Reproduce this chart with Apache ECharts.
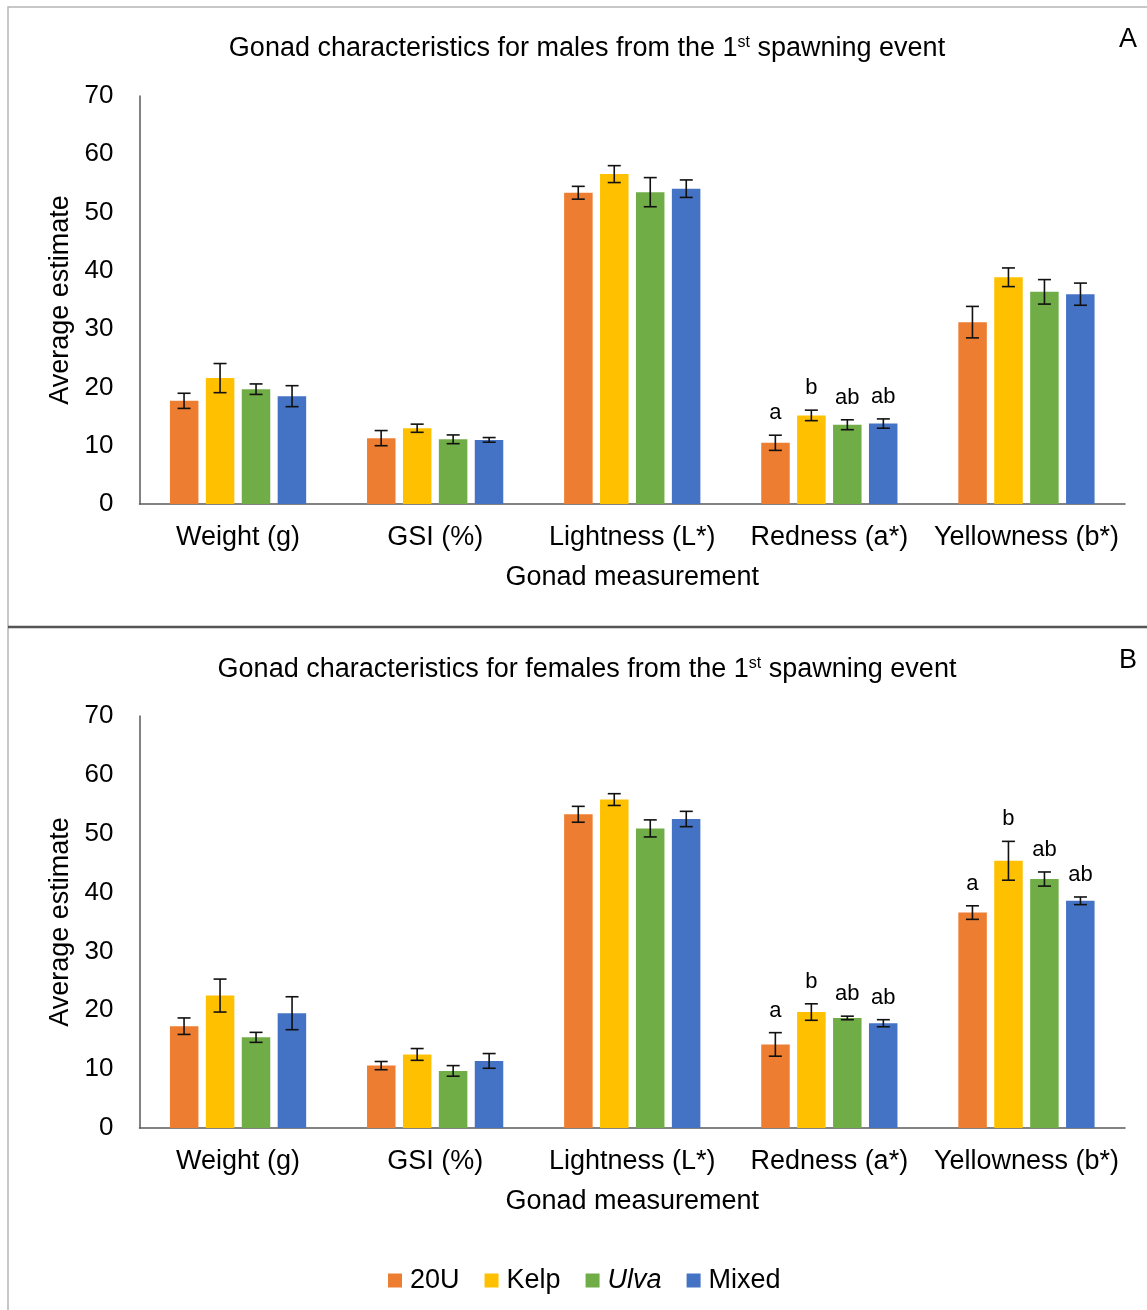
<!DOCTYPE html>
<html>
<head>
<meta charset="utf-8">
<script src="https://cdn.jsdelivr.net/npm/echarts@6/dist/echarts.min.js"></script>
<style>
  html, body { margin: 0; padding: 0; background: #fff; }
  #chart { width: 1147px; height: 1310px; }
</style>
</head>
<body>
<div id="chart"></div>
<script>
// Gonad measurements on the x axis
const categories = ['Weight (g)', 'GSI (%)', 'Lightness (L*)', 'Redness (a*)', 'Yellowness (b*)'];
const groups = ['20U', 'Kelp', 'Ulva', 'Mixed'];
const yTicks = [0, 10, 20, 30, 40, 50, 60, 70];

// Males, 1st spawning event: means and error bar half-widths
const maleMean20U   = [17.7, 11.3, 53.4, 10.5, 31.2];
const maleMeanKelp  = [21.6, 13.0, 56.6, 15.2, 38.9];
const maleMeanUlva  = [19.7, 11.1, 53.5, 13.6, 36.4];
const maleMeanMixed = [18.5, 11.0, 54.1, 13.8, 36.0];
const maleErr20U   = [1.3, 1.3, 1.1, 1.3, 2.7];
const maleErrKelp  = [2.5, 0.7, 1.45, 0.9, 1.6];
const maleErrUlva  = [0.9, 0.75, 2.5, 0.85, 2.1];
const maleErrMixed = [1.8, 0.4, 1.5, 0.8, 1.9];
const maleLet20U   = ['', '', '', 'a', ''];
const maleLetKelp  = ['', '', '', 'b', ''];
const maleLetUlva  = ['', '', '', 'ab', ''];
const maleLetMixed = ['', '', '', 'ab', ''];

// Females, 1st spawning event
const femaleMean20U   = [17.3, 10.6, 53.3, 14.2, 36.6];
const femaleMeanKelp  = [22.5, 12.5, 55.8, 19.7, 45.4];
const femaleMeanUlva  = [15.4, 9.7, 50.9, 18.7, 42.3];
const femaleMeanMixed = [19.5, 11.4, 52.5, 17.8, 38.6];
const femaleErr20U   = [1.4, 0.7, 1.35, 2.0, 1.15];
const femaleErrKelp  = [2.8, 1.0, 1.0, 1.4, 3.3];
const femaleErrUlva  = [0.85, 0.9, 1.45, 0.3, 1.2];
const femaleErrMixed = [2.8, 1.25, 1.3, 0.6, 0.65];
const femaleLet20U   = ['', '', '', 'a', 'a'];
const femaleLetKelp  = ['', '', '', 'b', 'b'];
const femaleLetUlva  = ['', '', '', 'ab', 'ab'];
const femaleLetMixed = ['', '', '', 'ab', 'ab'];

const colors = ['#ED7D31', '#FFC000', '#70AD47', '#4472C4'];
const FONT = '"Liberation Sans", Arial, sans-serif';
const FS = 27;
const BAR_W = 28.5, BAR_STEP = 36;

const panels = [
  { means: [maleMean20U, maleMeanKelp, maleMeanUlva, maleMeanMixed],
    errs: [maleErr20U, maleErrKelp, maleErrUlva, maleErrMixed],
    lets: [maleLet20U, maleLetKelp, maleLetUlva, maleLetMixed] },
  { means: [femaleMean20U, femaleMeanKelp, femaleMeanUlva, femaleMeanMixed],
    errs: [femaleErr20U, femaleErrKelp, femaleErrUlva, femaleErrMixed],
    lets: [femaleLet20U, femaleLetKelp, femaleLetUlva, femaleLetMixed] }
];

const chart = echarts.init(document.getElementById('chart'), null, { renderer: 'canvas' });

const grids = [
  { left: 139.5, right: 22, top: 96, height: 408 },
  { left: 139.5, right: 22, top: 716, height: 412 }
];

const axisText = { color: '#000', fontFamily: FONT, fontSize: FS };

const xAxes = grids.map((g, i) => ({
  type: 'category', gridIndex: i, data: categories,
  axisLine: { lineStyle: { color: '#595959', width: 1.5 } },
  axisTick: { show: false },
  axisLabel: Object.assign({ margin: 20, interval: 0 }, axisText),
  name: 'Gonad measurement', nameLocation: 'middle', nameGap: 60,
  nameTextStyle: Object.assign({}, axisText)
}));

const yAxes = grids.map((g, i) => ({
  type: 'value', gridIndex: i, min: yTicks[0], max: yTicks[yTicks.length - 1], interval: 10,
  axisLine: { show: true, lineStyle: { color: '#595959', width: 1.5 } },
  axisTick: { show: false },
  splitLine: { show: false },
  axisLabel: Object.assign({ margin: 26 }, axisText, { fontSize: 26 }),
  name: 'Average estimate', nameLocation: 'middle', nameGap: 64,
  nameTextStyle: Object.assign({}, axisText)
}));

const series = [];
panels.forEach((p, pi) => {
  groups.forEach((name, gi) => {
    series.push({
      type: 'bar', name: name, xAxisIndex: pi, yAxisIndex: pi,
      data: p.means[gi], barWidth: BAR_W, barGap: '26%',
      itemStyle: { color: colors[gi] }, z: 2
    });
  });
  groups.forEach((name, gi) => {
    const letters = p.lets[gi];
    series.push({
      type: 'custom', name: name, xAxisIndex: pi, yAxisIndex: pi, z: 5,
      data: p.means[gi].map((m, k) => [k, m, p.errs[gi][k]]),
      encode: { x: 0, y: 1 },
      renderItem: function (params, api) {
        const k = api.value(0), m = api.value(1), e = api.value(2);
        const dx = (gi - 1.5) * BAR_STEP;
        const top = api.coord([k, m + e]);
        const bot = api.coord([k, m - e]);
        const x = top[0] + dx;
        const cap = 6.5;
        const ls = { stroke: '#111', lineWidth: 1.6 };
        const children = [
          { type: 'line', shape: { x1: x, y1: top[1], x2: x, y2: bot[1] }, style: ls },
          { type: 'line', shape: { x1: x - cap, y1: top[1], x2: x + cap, y2: top[1] }, style: ls },
          { type: 'line', shape: { x1: x - cap, y1: bot[1], x2: x + cap, y2: bot[1] }, style: ls }
        ];
        const t = letters[params.dataIndex];
        if (t) {
          children.push({
            type: 'text', x: x, y: top[1] - 11,
            style: { text: t, fill: '#000', font: '22px ' + FONT, textAlign: 'center', textVerticalAlign: 'bottom' }
          });
        }
        return { type: 'group', children: children };
      }
    });
  });
});

const titleRich = {
  sup: { fontSize: 16, fontFamily: FONT, color: '#000', verticalAlign: 'top', padding: [0, 0, 11, 0] }
};

const option = {
  animation: false,
  backgroundColor: '#fff',
  color: colors,
  title: [
    { text: 'Gonad characteristics for males from the 1{sup|st} spawning event',
      left: 582, top: 30, textAlign: 'center',
      textStyle: { color: '#000', fontFamily: FONT, fontSize: FS, fontWeight: 'normal', rich: titleRich } },
    { text: 'Gonad characteristics for females from the 1{sup|st} spawning event',
      left: 582, top: 651, textAlign: 'center',
      textStyle: { color: '#000', fontFamily: FONT, fontSize: FS, fontWeight: 'normal', rich: titleRich } },
    { text: 'A', left: 1114, top: 21,
      textStyle: { color: '#000', fontFamily: FONT, fontSize: FS, fontWeight: 'normal' } },
    { text: 'B', left: 1114, top: 642,
      textStyle: { color: '#000', fontFamily: FONT, fontSize: FS, fontWeight: 'normal' } }
  ],
  legend: {
    data: groups, left: 383, top: 1262,
    itemWidth: 14, itemHeight: 14, itemGap: 25, icon: 'rect',
    textStyle: { color: '#000', fontFamily: FONT, fontSize: FS, padding: [0, 0, 0, 3],
      rich: { i: { fontStyle: 'italic', fontFamily: FONT, fontSize: FS, color: '#000' } } },
    formatter: n => n === 'Ulva' ? '{i|Ulva}' : n
  },
  grid: grids,
  xAxis: xAxes,
  yAxis: yAxes,
  series: series,
  graphic: [
    { type: 'rect', shape: { x: 8, y: 7, width: 1150, height: 1320 },
      style: { fill: 'none', stroke: '#b5b5b5', lineWidth: 1.5 }, silent: true },
    { type: 'line', shape: { x1: 8, y1: 627, x2: 1147, y2: 627 },
      style: { stroke: '#555', lineWidth: 2.5 }, silent: true }
  ]
};

chart.setOption(option);
</script>
</body>
</html>
